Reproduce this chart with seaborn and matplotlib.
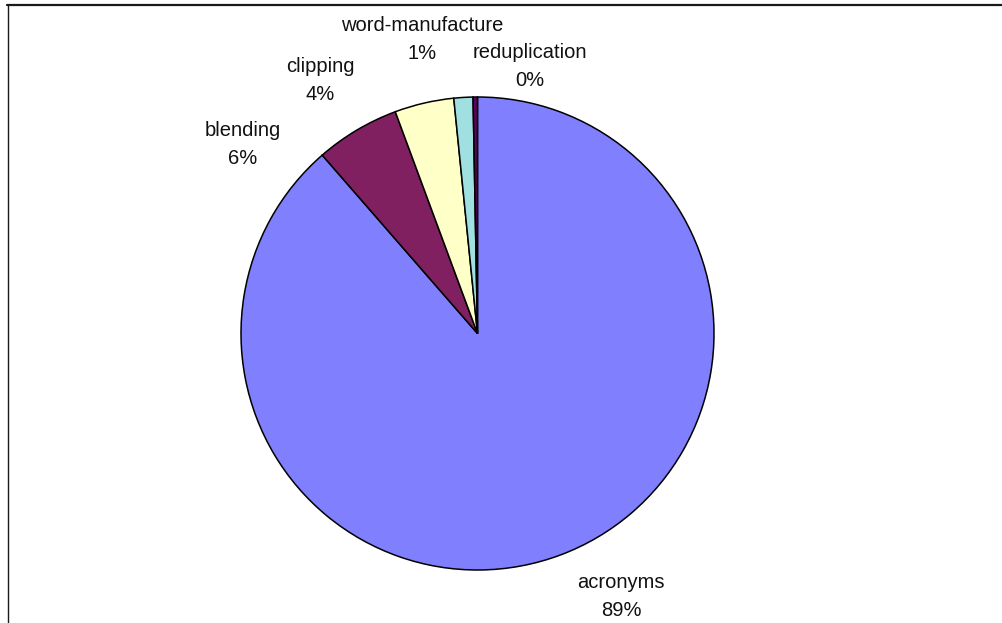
import matplotlib
matplotlib.use("Agg")
import matplotlib.pyplot as plt
from matplotlib.lines import Line2D
import seaborn as sns

# ---- data ----
categories = ["acronyms", "blending", "clipping", "word-manufacture", "reduplication"]
shares = [88.6, 5.75, 4.05, 1.3, 0.3]
colors = ["#8080FF", "#802060", "#FFFFC8", "#A0E0E0", "#600060"]

# ---- layout (label centres in pie-radius units) ----
label_pos = [(0.607, -1.114), (-0.992, 0.801), (-0.666, 1.068),
             (-0.235, 1.245), (0.222, 1.129)]

sns.set_theme(style="white")
plt.rcParams["font.family"] = ["Liberation Sans", "DejaVu Sans"]

W, H, DPI = 1002, 623, 100
fig = plt.figure(figsize=(W / DPI, H / DPI), dpi=DPI)
fig.patch.set_facecolor("white")

R_PX = 236.5
CX, CY = 477.5, 333.5
ax = fig.add_axes([0, 0, 1, 1])
palette = sns.color_palette(colors)
ax.pie(shares, colors=palette, startangle=90, counterclock=False,
       radius=1, wedgeprops=dict(edgecolor="black", linewidth=1.1))
ax.set_xlim(-CX / R_PX, (W - CX) / R_PX)
ax.set_ylim((CY - H) / R_PX, CY / R_PX)
ax.set_aspect("equal")
ax.axis("off")

half_gap = 14 / R_PX
total = sum(shares)
for name, v, (x, y) in zip(categories, shares, label_pos):
    ax.text(x, y + half_gap, name, ha="center", va="center",
            fontsize=14.5, color="#111111")
    ax.text(x, y - half_gap, f"{round(v / total * 100)}%", ha="center", va="center",
            fontsize=14.5, color="#111111")

# chart-area border (top and left edges visible)
fig.add_artist(Line2D([7 / W, 1], [1 - 4.5 / H, 1 - 4.5 / H], transform=fig.transFigure,
                      color="#1a1a1a", linewidth=1.6))
fig.add_artist(Line2D([7.5 / W, 7.5 / W], [0, 1 - 4.5 / H], transform=fig.transFigure,
                      color="#1a1a1a", linewidth=1.0))

fig.savefig("out.png", dpi=DPI)
